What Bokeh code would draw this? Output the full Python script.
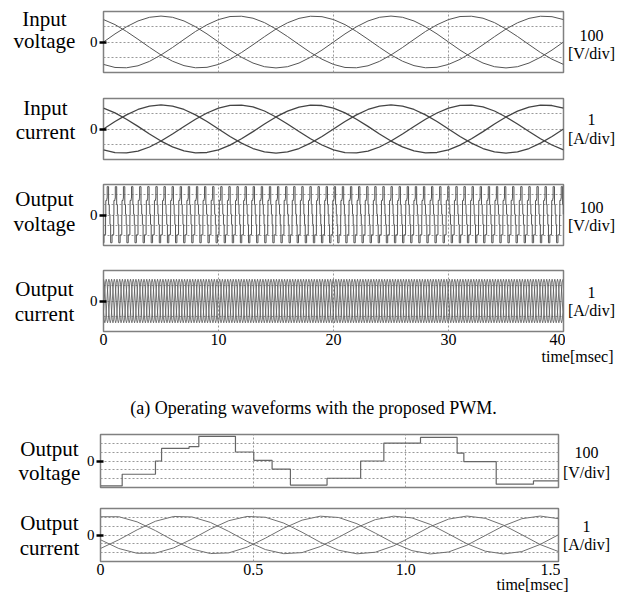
import numpy as np
from bokeh.plotting import figure
from bokeh.layouts import column, row
from bokeh.models import Range1d, FixedTicker, Grid, Label
from bokeh.embed import file_html
from bokeh.resources import INLINE

# ---------------- data ----------------
# (a) 40 ms window, 1 ms samples
t_in = list(range(41))
vin_a = [147, 114, 69, 18, -35, -85, -126, -155, -169, -166, -147, -114, -69, -18, 35, 85, 126, 155, 169, 166,
         147, 114, 69, 18, -35, -85, -126, -155, -169, -166, -147, -114, -69, -18, 35, 85, 126, 155, 169, 166, 147]
vin_b = [0, 53, 100, 138, 162, 170, 162, 138, 100, 53, 0, -53, -100, -138, -162, -170, -162, -138, -100, -53,
         0, 53, 100, 138, 162, 170, 162, 138, 100, 53, 0, -53, -100, -138, -162, -170, -162, -138, -100, -53, 0]
vin_c = [-147, -167, -169, -156, -127, -85, -36, 17, 69, 113, 147, 167, 169, 156, 127, 85, 36, -17, -69, -113,
         -147, -167, -169, -156, -127, -85, -36, 17, 69, 113, 147, 167, 169, 156, 127, 85, 36, -17, -69, -113, -147]
iin_a = [1.37, 1.06, 0.64, 0.17, -0.33, -0.79, -1.17, -1.44, -1.57, -1.54, -1.37, -1.06, -0.64, -0.17, 0.33, 0.79, 1.17, 1.44, 1.57, 1.54,
         1.37, 1.06, 0.64, 0.17, -0.33, -0.79, -1.17, -1.44, -1.57, -1.54, -1.37, -1.06, -0.64, -0.17, 0.33, 0.79, 1.17, 1.44, 1.57, 1.54, 1.37]
iin_b = [0, 0.49, 0.93, 1.28, 1.50, 1.58, 1.50, 1.28, 0.93, 0.49, 0, -0.49, -0.93, -1.28, -1.50, -1.58, -1.50, -1.28, -0.93, -0.49,
         0, 0.49, 0.93, 1.28, 1.50, 1.58, 1.50, 1.28, 0.93, 0.49, 0, -0.49, -0.93, -1.28, -1.50, -1.58, -1.50, -1.28, -0.93, -0.49, 0]
iin_c = [-1.37, -1.55, -1.57, -1.45, -1.18, -0.79, -0.33, 0.16, 0.64, 1.05, 1.37, 1.55, 1.57, 1.45, 1.18, 0.79, 0.33, -0.16, -0.64, -1.05,
         -1.37, -1.55, -1.57, -1.45, -1.18, -0.79, -0.33, 0.16, 0.64, 1.05, 1.37, 1.55, 1.57, 1.45, 1.18, 0.79, 0.33, -0.16, -0.64, -1.05, -1.37]

# output waveform: one carrier cycle read from the 1.5 ms view, repeated over 40 ms
out_period = 0.705   # ms
out_t0 = 0.18        # ms, first rising zero step
vout_cycle_t = [0.000, 0.020, 0.110, 0.142, 0.262, 0.322, 0.382, 0.442, 0.562]
vout_cycle_v = [0, 95, 108, 186, 68, 5, -62, -182, -130]
iout_cycle_a = [1.43, 1.24, 0.72, 0.0, -0.72, -1.24, -1.43, -1.24, -0.72, 0.0, 0.72, 1.24]
iout_cycle_b = [-0.72, 0.0, 0.72, 1.24, 1.43, 1.24, 0.72, 0.0, -0.72, -1.24, -1.43, -1.24]
iout_cycle_c = [-0.72, -1.24, -1.43, -1.24, -0.72, 0.0, 0.72, 1.24, 1.43, 1.24, 0.72, 0.0]

# (b) 1.5 ms window
vout_t = [0.000, 0.071, 0.180, 0.200, 0.290, 0.322, 0.442, 0.502, 0.562, 0.622, 0.742, 0.852, 0.928, 1.048, 1.168, 1.190, 1.296, 1.418, 1.500]
vout_v = [-188, -100, 0, 95, 108, 186, 68, 5, -62, -182, -130, 0, 135, 178, 60, -5, -175, -150, -150]
iout_t = [0.00, 0.06, 0.12, 0.18, 0.24, 0.30, 0.36, 0.42, 0.48, 0.54, 0.60, 0.66, 0.72, 0.78, 0.84, 0.90, 0.96,
          1.02, 1.08, 1.14, 1.20, 1.26, 1.32, 1.38, 1.44, 1.50]
iout_a = [1.38, 1.38, 0.99, 0.33, -0.43, -1.06, -1.40, -1.35, -0.92, -0.24, 0.51, 1.12, 1.42, 1.32, 0.85, 0.14,
          -0.60, -1.18, -1.43, -1.28, -0.77, -0.04, 0.69, 1.23, 1.43, 1.23]
iout_b = [-1.02, -0.36, 0.39, 1.04, 1.40, 1.36, 0.95, 0.27, -0.48, -1.10, -1.41, -1.33, -0.87, -0.17, 0.57, 1.16,
          1.42, 1.29, 0.80, 0.08, -0.66, -1.22, -1.43, -1.25, -0.71, 0.02]
iout_c = [-0.36, -1.02, -1.38, -1.37, -0.97, -0.30, 0.45, 1.08, 1.40, 1.34, 0.90, 0.21, -0.55, -1.15, -1.42, -1.30,
          -0.82, -0.11, 0.63, 1.20, 1.43, 1.26, 0.74, 0.02, -0.72, -1.25]

x_ticks_a = [0, 10, 20, 30, 40]
x_ticks_b = [0, 0.5, 1.0, 1.5]
x_tick_labels_b = {0: "0", 0.5: "0.5", 1: "1.0", 1.5: "1.5"}

# ---------------- repeat the read cycle over the 40 ms window ----------------
T_END = 40.0
ts, vs = [], []
k = -1
while out_t0 + k * out_period <= T_END:
    base = out_t0 + k * out_period
    for dt, v in zip(vout_cycle_t, vout_cycle_v):
        ts.append(base + dt)
        vs.append(v)
    k += 1
ts = np.array(ts)
vs = np.array(vs, dtype=float)
i0 = np.searchsorted(ts, 0.0, side="right") - 1
ts, vs = ts[i0:], vs[i0:]
ts[0] = 0.0
keep = ts <= T_END
ts, vs = list(ts[keep]) + [T_END], list(vs[keep]) + [vs[keep][-1]]

n_i = int(T_END / (out_period / 12)) + 1
ti = np.arange(n_i) * (out_period / 12)
ia_long = np.resize(iout_cycle_a, n_i)
ib_long = np.resize(iout_cycle_b, n_i)
ic_long = np.resize(iout_cycle_c, n_i)

# ---------------- helpers ----------------
FONT = "Liberation Serif"
GRID_C = "#999999"


def make_panel(frame_w, height, bt, bb, xr, yr, vgrid, hgrid, xaxis_ticks=None, overrides=None):
    bl, br = 20, 2
    p = figure(width=bl + frame_w + br, height=height, x_range=Range1d(*xr), y_range=Range1d(*yr),
               x_axis_location="below" if xaxis_ticks is not None else None,
               output_backend="svg", toolbar_location=None,
               min_border_left=bl, min_border_right=br, min_border_top=bt, min_border_bottom=bb)
    p.grid.visible = False
    p.outline_line_color = "#808080"
    p.outline_line_width = 1.5
    p.background_fill_color = "white"
    p.border_fill_color = "white"
    ya = p.yaxis[0]
    ya.ticker = FixedTicker(ticks=[0])
    ya.axis_line_color = None
    ya.major_tick_out = 4
    ya.major_tick_in = 3
    ya.major_tick_line_width = 2.5
    ya.major_tick_line_color = "black"
    ya.minor_tick_line_color = None
    ya.major_label_standoff = 2
    ya.major_label_text_font = FONT
    ya.major_label_text_font_size = "15px"
    ya.major_label_text_color = "black"
    if xaxis_ticks is not None:
        xa = p.xaxis[0]
        xa.ticker = FixedTicker(ticks=xaxis_ticks)
        if overrides:
            xa.major_label_overrides = overrides
        xa.axis_line_color = None
        xa.major_tick_line_color = None
        xa.minor_tick_line_color = None
        xa.major_tick_out = 0
        xa.major_tick_in = 0
        xa.major_label_standoff = 2
        xa.major_label_text_font = FONT
        xa.major_label_text_font_size = "16px"
        xa.major_label_text_color = "black"
    p.add_layout(Grid(dimension=0, ticker=FixedTicker(ticks=vgrid), grid_line_color=GRID_C,
                      grid_line_dash="2 2", grid_line_width=1))
    p.add_layout(Grid(dimension=1, ticker=FixedTicker(ticks=hgrid), grid_line_color=GRID_C,
                      grid_line_dash="2 2", grid_line_width=1))
    return p


def text_fig(w, h, bt, bb, y_top, y_bot, items):
    """Text-only canvas; its frame spans page rows y_top..y_bot (y measured from page top)."""
    f = figure(width=w, height=h, x_range=Range1d(0, w), y_range=Range1d(y_bot, y_top),
               x_axis_location=None, y_axis_location=None, output_backend="svg",
               toolbar_location=None, min_border_left=0, min_border_right=0,
               min_border_top=bt, min_border_bottom=bb)
    f.grid.visible = False
    f.outline_line_color = None
    f.background_fill_color = "white"
    f.border_fill_color = "white"
    for text, x, y, size in items:
        f.add_layout(Label(x=x, y=y, text=text, text_font=FONT, text_font_size=f"{size}px",
                           text_align="center", text_baseline="middle", text_color="black"))
    return f


def panel_row(p, top, h, bt, bb, lw, rw, lx, l1, l2, m1, m2, s1, s2, c1, c2):
    ft, fb = top + bt, top + h - bb
    left = text_fig(lw, h, bt, bb, ft, fb, [(l1, lx, m1, 21), (l2, lx, m2, 21)])
    right = text_fig(rw, h, bt, bb, ft, fb, [(s1, 26, c1, 16), (s2, 26, c2, 16)])
    return row(left, p, right, spacing=0)


LINE = "#555555"
VGRID = [10, 20, 30]

# Row 1: input voltage (page y 0-85, frame 11-72)
p1 = make_panel(460, 85, 11, 13, (0, 40), (-200, 200), VGRID, [-100, 0, 100])
for v in (vin_a, vin_b, vin_c):
    p1.line(t_in, v, line_color=LINE, line_width=1)
r1 = panel_row(p1, 0, 85, 11, 13, 83, 64, 44, "Input", "voltage", 18.5, 40, "100", "[V/div]", 35, 53)

# Row 2: input current (85-172, frame 98-159)
p2 = make_panel(460, 87, 13, 13, (0, 40), (-2, 2), VGRID, [-1, 0, 1])
for v in (iin_a, iin_b, iin_c):
    p2.line(t_in, v, line_color="#444444", line_width=1.3)
r2 = panel_row(p2, 85, 87, 13, 13, 83, 64, 45, "Input", "current", 107, 131.5, "1", "[A/div]", 118.5, 138)

# Row 3: output voltage 40 ms (172-258, frame 184-245)
p3 = make_panel(460, 86, 12, 13, (0, 40), (-200, 200), VGRID, [-133.3, -66.7, 0, 66.7, 133.3])
p3.step(ts, vs, mode="after", line_color=LINE, line_width=1)
r3 = panel_row(p3, 172, 86, 12, 13, 83, 64, 44, "Output", "voltage", 198, 223, "100", "[V/div]", 206.5, 225)

# Row 4: output current 40 ms (258-348, frame 270-331)
p4 = make_panel(460, 90, 12, 17, (0, 40), (-2, 2), VGRID, [-1, 0, 1], xaxis_ticks=x_ticks_a)
for v in (ia_long, ib_long, ic_long):
    p4.line(ti, v, line_color="#5a5a5a", line_width=0.8)
r4 = panel_row(p4, 258, 90, 12, 17, 83, 64, 44, "Output", "current", 288, 313, "1", "[A/div]", 291.5, 310)

# Strip A (348-425): axis title and caption
sA = text_fig(629, 77, 0, 0, 348, 425,
              [("time[msec]", 577, 356, 16),
               ("(a) Operating waveforms with the proposed PWM.", 313, 407, 18)])

# Row 5: output voltage 1.5 ms (425-497, frame 434-487)
p5 = make_panel(458, 72, 9, 10, (0, 1.5), (-200, 200), [0.5, 1.0], [-133.3, -66.7, 0, 66.7, 133.3])
p5.step(vout_t, vout_v, mode="after", line_color="#666666", line_width=1.2)
r5 = panel_row(p5, 425, 72, 9, 10, 80, 69, 49, "Output", "voltage", 448, 472.5, "100", "[V/div]", 451.5, 471.5)

# Row 6: output current 1.5 ms (497-577, frame 508-562)
p6 = make_panel(458, 80, 11, 15, (0, 1.5), (-2, 2), [0.5, 1.0], [-1.333, -0.667, 0, 0.667, 1.333],
                xaxis_ticks=x_ticks_b, overrides=x_tick_labels_b)
for v in (iout_a, iout_b, iout_c):
    p6.line(iout_t, v, line_color="#707070", line_width=1)
r6 = panel_row(p6, 497, 80, 11, 15, 80, 69, 49, "Output", "current", 523, 548, "1", "[A/div]", 526.5, 545)

# Strip B (577-595)
sB = text_fig(629, 18, 0, 0, 577, 595, [("time[msec]", 532, 584, 16)])

p = column(r1, r2, r3, r4, sA, r5, r6, sB, spacing=0)
open("out.html", "w").write(file_html(p, INLINE))
